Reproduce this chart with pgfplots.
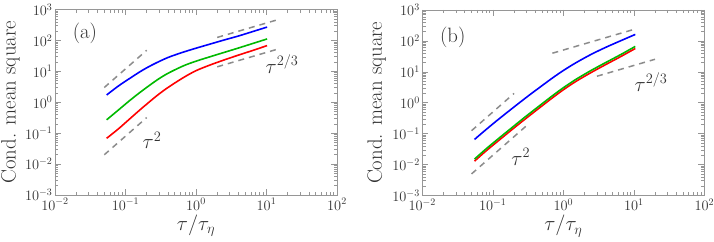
\documentclass[border=0pt]{standalone}
\usepackage{pgfplots}
\pgfplotsset{compat=1.18}
\definecolor{axgray}{RGB}{150,150,150}
\definecolor{txt}{RGB}{51,51,51}
\definecolor{dgray}{RGB}{140,140,140}
\definecolor{cblue}{RGB}{0,0,255}
\definecolor{cgreen}{RGB}{0,185,0}
\definecolor{cred}{RGB}{255,0,0}
\tikzset{
  mycurve/.style={line width=1.6pt, smooth},
  myref/.style={line width=1.5pt, dgray, dash pattern=on 6pt off 5pt},
  mylab/.style={font=\fontsize{20.74}{24}\selectfont, text=txt, anchor=center},
}
\begin{document}
\begin{tikzpicture}
\path[use as bounding box] (-55pt,-46pt) rectangle (659pt,195pt);
\begin{axis}[at={(0pt,0pt)}, anchor=south west,
    xmode=log, ymode=log, scale only axis, width=282pt, height=185.5pt,
    xmin=1e-2, xmax=1e2, ymin=1e-3, ymax=1e3,
    xtick={1e-2,1e-1,1,1e1,1e2}, ytick={1e-3,1e-2,1e-1,1,1e1,1e2,1e3},
    axis line style={axgray, line width=0.8pt},
    every tick/.style={axgray, line width=0.6pt},
    major tick length=6pt, minor tick length=3.5pt,
    tick align=inside,
    tick label style={font=\fontsize{14.4}{16}\selectfont, text=txt},
    yticklabel style={xshift=1pt},
    every axis label/.append style={font=\fontsize{20.74}{24}\selectfont, text=txt},
    xlabel={$\tau/\tau_\eta$}, ylabel={Cond. mean square},
    xlabel style={at={(axis description cs:0.5,-0.165)}, anchor=center},
    ylabel style={at={(axis description cs:-0.158,0.5)}, anchor=center, inner sep=0pt}]
\addplot[myref] coordinates {(0.05,3.0) (0.2,48)};
\addplot[myref] coordinates {(0.05,0.02) (0.2,0.32)};
\addplot[myref] coordinates {(2,125) (14,458)};
\addplot[myref] coordinates {(2,14) (14,51.3)};
\addplot[mycurve, cblue] coordinates {
(0.054,1.72) (0.08,3.4) (0.116,6.0) (0.17,10.5) (0.25,17) (0.4,28) (0.665,42) (1.0,56) (1.58,76) (2.46,102) (4,139) (6.5,196) (10.2,270)};
\addplot[mycurve, cgreen] coordinates {
(0.054,0.27) (0.08,0.57) (0.116,1.16) (0.17,2.3) (0.278,5.18) (0.4,8.62) (0.665,15.1) (1,21.3) (1.58,29.6) (2.46,40.4) (4,56.8) (6.5,80.6) (10.2,111.5)};
\addplot[mycurve, cred] coordinates {
(0.054,0.068) (0.08,0.14) (0.116,0.296) (0.17,0.636) (0.278,1.62) (0.4,3.0) (0.665,6.3) (1,10.5) (1.58,16) (2.46,23) (4,33.5) (6.5,48) (10.2,68)};
\node[mylab] at (rel axis cs:0.106,0.873) {(a)};
\node[mylab] at (rel axis cs:0.344,0.295) {$\tau^2$};
\node[mylab] at (rel axis cs:0.805,0.706) {$\tau^{2/3}$};
\end{axis}
\begin{axis}[at={(367.3pt,-0.5pt)}, anchor=south west,
    xmode=log, ymode=log, scale only axis, width=282pt, height=185.5pt,
    xmin=1e-2, xmax=1e2, ymin=1e-3, ymax=1e3,
    xtick={1e-2,1e-1,1,1e1,1e2}, ytick={1e-3,1e-2,1e-1,1,1e1,1e2,1e3},
    axis line style={axgray, line width=0.8pt},
    every tick/.style={axgray, line width=0.6pt},
    major tick length=6pt, minor tick length=3.5pt,
    tick align=inside,
    tick label style={font=\fontsize{14.4}{16}\selectfont, text=txt},
    yticklabel style={xshift=1pt},
    every axis label/.append style={font=\fontsize{20.74}{24}\selectfont, text=txt},
    xlabel={$\tau/\tau_\eta$}, ylabel={Cond. mean square},
    xlabel style={at={(axis description cs:0.5,-0.165)}, anchor=center},
    ylabel style={at={(axis description cs:-0.162,0.5)}, anchor=center, inner sep=0pt}]
\addplot[myref] coordinates {(0.05,0.125) (0.2,2.0)};
\addplot[myref] coordinates {(0.05,0.005) (0.3,0.18)};
\addplot[myref] coordinates {(0.7,40) (10,235)};
\addplot[myref] coordinates {(3,7.2) (20,25.5)};
\addplot[mycurve, cblue] coordinates {
(0.055,0.065) (0.08,0.135) (0.12,0.29) (0.2,0.73) (0.3,1.5) (0.45,3.0) (0.7,6.3) (1.0,11) (1.5,19.5) (2.5,37) (4,62) (6.5,101) (10.5,162)};
\addplot[mycurve, cred] coordinates {
(0.055,0.0129) (0.08,0.0275) (0.12,0.059) (0.2,0.153) (0.3,0.32) (0.45,0.66) (0.7,1.44) (1.0,2.62) (1.5,4.86) (2.5,9.6) (4,17.2) (6.5,31) (10.5,57)};
\addplot[mycurve, cgreen] coordinates {
(0.055,0.015) (0.08,0.032) (0.12,0.069) (0.2,0.178) (0.3,0.375) (0.45,0.77) (0.7,1.68) (1.0,3.05) (1.5,5.65) (2.5,11.2) (4,20) (6.5,36) (10.5,66.4)};
\node[mylab] at (rel axis cs:0.108,0.85) {(b)};
\node[mylab] at (rel axis cs:0.349,0.209) {$\tau^2$};
\node[mylab] at (rel axis cs:0.811,0.612) {$\tau^{2/3}$};
\end{axis}
\end{tikzpicture}
\end{document}
